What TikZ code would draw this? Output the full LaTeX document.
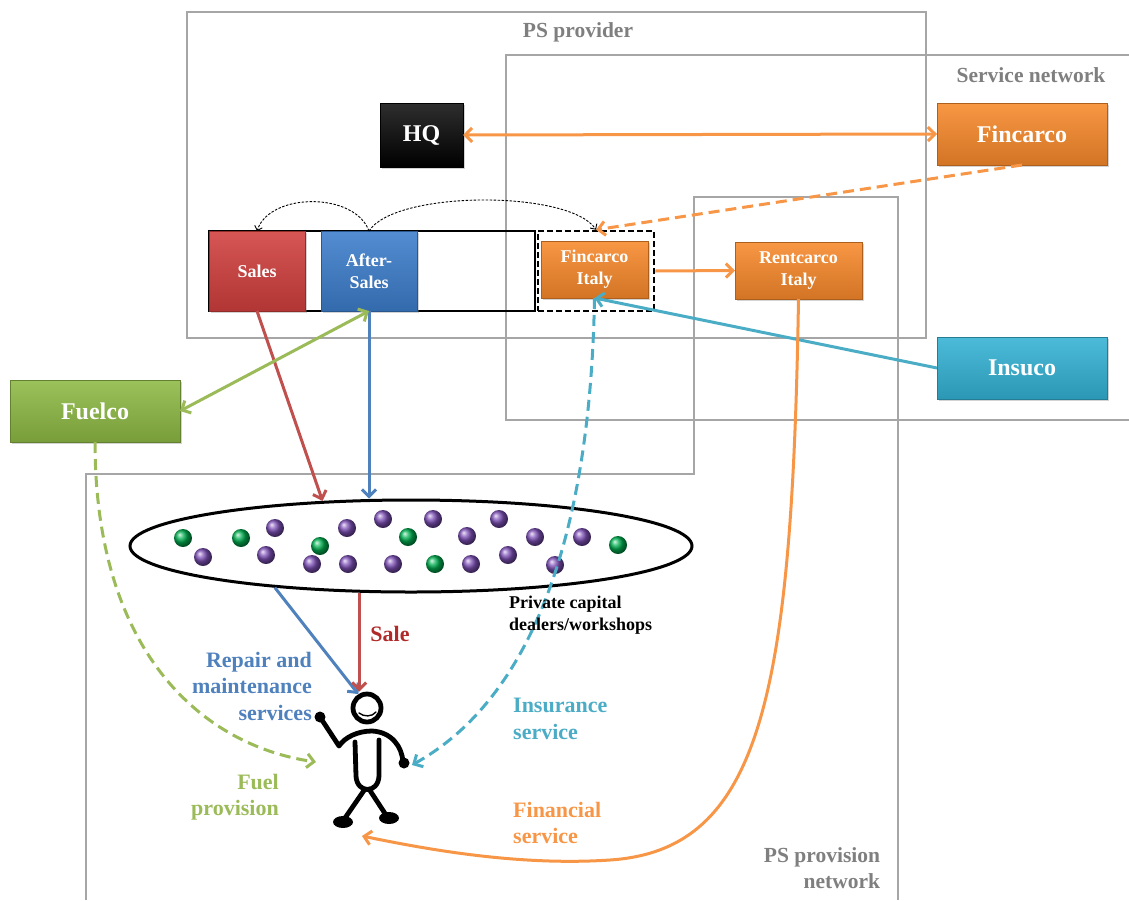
\documentclass[tikz,border=0pt]{standalone}
\usepackage{fontspec}
\setmainfont{Liberation Serif}
\usetikzlibrary{arrows.meta,shapes.geometric,shadows}

\definecolor{framegray}{HTML}{A6A6A6}
\definecolor{labelgray}{HTML}{7F7F7F}
\definecolor{orng}{HTML}{F79646}
\definecolor{orngbox}{HTML}{F7892B}
\definecolor{rd}{HTML}{C0504D}
\definecolor{rdbox}{HTML}{D03F3D}
\definecolor{saletext}{HTML}{B02A2A}
\definecolor{bl}{HTML}{4F81BD}
\definecolor{blbox}{HTML}{3C7DCB}
\definecolor{grn}{HTML}{9BBB59}
\definecolor{grnbox}{HTML}{8DB944}
\definecolor{cyn}{HTML}{4BACC6}
\definecolor{cynbox}{HTML}{33B2D4}
\definecolor{prp}{HTML}{7E50B8}
\definecolor{dotgreen}{HTML}{00B050}

\tikzset{
  frame/.style={draw=framegray, line width=2.6pt},
  framelabel/.style={text=labelgray, font=\bfseries\fontsize{21.5}{26}\selectfont, inner sep=0pt},
  box/.style={rectangle, inner sep=0pt, outer sep=0pt, draw=#1!70!black, line width=0.6pt,
    top color=#1!88!white, bottom color=#1!85!black, text=white, align=center,
    drop shadow={opacity=0.35, shadow xshift=1.5pt, shadow yshift=-2pt}},
  bigtext/.style={font=\bfseries\fontsize{24}{26}\selectfont},
  smalltext/.style={font=\bfseries\fontsize{18}{22}\selectfont},
  lbl/.style={font=\bfseries\fontsize{22}{26.5}\selectfont, inner sep=0pt},
  conn/.style={line width=3pt},
  barb/.style={-{Straight Barb[length=7pt,width=14pt]}},
  dbarb/.style={{Straight Barb[length=7pt,width=14pt]}-{Straight Barb[length=7pt,width=14pt]}},
  longdash/.style={dash pattern=on 11pt off 6pt},
  thindash/.style={draw=black, line width=0.9pt, dash pattern=on 2.5pt off 1.5pt,
    -{Straight Barb[length=4pt,width=8pt]}},
  fig/.style={line width=4.8pt, line cap=round, line join=round}
}

\begin{document}
\begin{tikzpicture}[x=1pt,y=-1pt]
\useasboundingbox (0,0) rectangle (1129,900);

% organisational frames
\draw[frame] (187,12) rectangle (926,338);
\draw[frame] (1129,55) -- (506,55) -- (506,420) -- (1129,420);
\draw[frame] (86,900) -- (86,474) -- (694,474) -- (694,197) -- (898,197) -- (898,900);

\node[framelabel] (lprov) at (578,32) {PS provider};
\node[framelabel] (lsnet) at (1031,75) {Service network};
\node[framelabel, align=right] (lpsn) at (822,868) {PS provision\\network};

% company units
\node[draw=black, line width=2.5pt, inner sep=0pt, minimum width=326pt, minimum height=80pt] (unit) at (372,271) {};
\node[draw=black, line width=2.5pt, dash pattern=on 6pt off 3pt, inner sep=0pt,
      minimum width=116pt, minimum height=80pt] (fcslot) at (596,271) {};

\node[rectangle, inner sep=0pt, outer sep=0pt, draw=black, top color=black!82!white, bottom color=black,
      text=white, bigtext, minimum width=83pt, minimum height=64pt,
      drop shadow={opacity=0.35, shadow xshift=1.5pt, shadow yshift=-2pt}] (hq) at (421.5,135) {HQ};
\node[box=orngbox, bigtext, minimum width=170pt, minimum height=62pt] (fin) at (1022,134) {Fincarco};
\node[box=rdbox, smalltext, minimum width=96pt, minimum height=80pt] (sales) at (257,271) {Sales};
\node[box=blbox, smalltext, minimum width=96pt, minimum height=80pt] (as) at (369,271) {After-\\Sales};
\node[box=orngbox, smalltext, minimum width=107pt, minimum height=57pt] (fci) at (594.5,269.5) {Fincarco\\Italy};
\node[box=orngbox, smalltext, minimum width=127pt, minimum height=57pt] (rci) at (798.5,270.5) {Rentcarco\\Italy};
\node[box=cynbox, bigtext, minimum width=170pt, minimum height=62pt] (ins) at (1022,368) {Insuco};
\node[box=grnbox, bigtext, minimum width=170pt, minimum height=62pt] (fuel) at (95,411) {Fuelco};

% pool of private dealers and workshops
\node[ellipse, draw=black, line width=3pt, inner sep=0pt, minimum width=562pt, minimum height=92pt] (pool) at (411,546) {};
\foreach \px/\py in {203/557,275/528,266/555,347/528,383/519,433/519,499/519,467/536,
                     535/537,582/537,312/564,348/564,393/564,471/564,508/555,555/565}
  \shade[ball color=prp] (\px,\py) circle[radius=9];
\foreach \px/\py in {183/538,241/538,320/546,408/537,435/564,618/545}
  \shade[ball color=dotgreen] (\px,\py) circle[radius=9];

% customer
\node[circle, draw=black, line width=4.8pt, minimum size=28pt, inner sep=0pt] (head) at (367,708) {};
\draw[line width=1.4pt, line cap=round] (359,713) .. controls (364,717) and (372,717) .. (376,712);
\draw[fig] (355,742) -- (356,776) .. controls (357,794) and (378,794) .. (379,776) -- (379,740);
\draw[fig] (320,717) -- (339,746) .. controls (345,737) and (358,731) .. (372,731)
           .. controls (392,732) and (402,747) .. (403,762);
\draw[fig] (365,789) -- (345,818);
\draw[fig] (369,789) -- (386,815);
\fill (343,822) ellipse[x radius=10, y radius=6];
\fill (389,818) ellipse[x radius=10, y radius=6];
\fill (320,717) circle[radius=5.5];
\fill (404,763) circle[radius=5.5];

\coordinate (fuelin) at (316,762);
\coordinate (insin) at (412,765);
\coordinate (finin) at (362,836);

% flows within the service network
\draw[conn, draw=orng, dbarb] (hq.east) -- (fin.west);
\draw[conn, draw=orng, longdash, barb] (fin.south) -- (fcslot.north);
\draw[conn, draw=orng, barb] (fcslot.east) -- (rci.west);
\draw[conn, draw=cyn, barb] (ins.west) -- (fci.south);
\draw[thindash] (as.north) .. controls (355,192) and (270,192) .. (sales.north);
\draw[thindash] (as.north) .. controls (395,190) and (570,190) .. (fcslot.north);

% flows towards the dealers
\draw[conn, draw=rd, barb] (sales.south) -- (pool.153);
\draw[conn, draw=bl, barb] (as.south) -- (as.south |- pool.north);
\draw[conn, draw=grn, dbarb] (fuel.east) -- (as.south);

% services delivered to the customer
\draw[conn, draw=bl, barb] (pool.197) -- (head.122);
\draw[conn, draw=rd, barb] (pool.222) -- (pool.222 |- head.north);
\draw[conn, draw=grn, longdash, barb] (fuel.south) .. controls (95,650) and (200,745) .. (fuelin);
\draw[conn, draw=cyn, longdash, barb] (fci.south) .. controls (590,560) and (520,705) .. (insin);
\draw[conn, draw=orng, barb] (rci.south) .. controls (792,700) and (760,850) .. (610,860)
      .. controls (520,866) and (430,850) .. (finin);

% service labels
\node[lbl, text=saletext] (lsale) at (390,634) {Sale};
\node[lbl, text=bl, align=right, anchor=east] (lrep) at (312,686) {Repair and\\maintenance\\services};
\node[lbl, text=cyn, align=left, anchor=west] (lins) at (513,719) {Insurance\\service};
\node[lbl, text=grn, align=right, anchor=east] (lfuel) at (279,797) {Fuel\\provision};
\node[lbl, text=orng, align=left, anchor=west] (lfin) at (513,823) {Financial\\service};
\node[font=\bfseries\fontsize{18}{22}\selectfont, inner sep=0pt, align=left, anchor=west] (lpriv) at (509,615) {Private capital\\dealers/workshops};

\end{tikzpicture}
\end{document}
